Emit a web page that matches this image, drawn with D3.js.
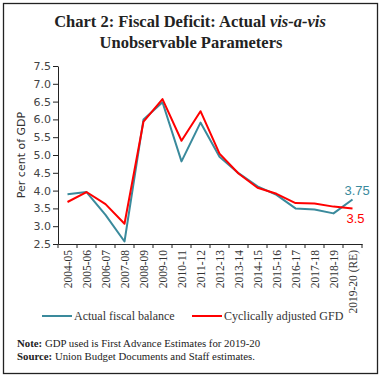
<!DOCTYPE html>
<html><head><meta charset="utf-8">
<script src="https://cdn.jsdelivr.net/npm/d3@7"></script>
<style>body{margin:0;background:#fff;} svg{display:block;}</style>
</head><body>
<script>
const categories = ["2004-05","2005-06","2006-07","2007-08","2008-09","2009-10","2010-11","2011-12","2012-13","2013-14","2014-15","2015-16","2016-17","2017-18","2018-19","2019-20 (RE)"];
const actualFiscal = [3.9,3.96,3.32,2.57,6.0,6.48,4.82,5.91,4.95,4.49,4.12,3.88,3.5,3.47,3.36,3.75];
const cyclicalGFD = [3.68,3.96,3.62,3.07,5.94,6.57,5.4,6.23,5.04,4.48,4.08,3.91,3.65,3.64,3.55,3.5];
const yTicks = [2.5,3.0,3.5,4.0,4.5,5.0,5.5,6.0,6.5,7.0,7.5];
const seriesNames = ["Actual fiscal balance","Cyclically adjusted GFD"];
const colors = ["#3a8a9c","#ff0000"];

const W=382,H=379;
const svg=d3.select("body").append("svg").attr("width",W).attr("height",H);
svg.append("rect").attr("x",3.5).attr("y",3.5).attr("width",374).attr("height",370)
  .attr("fill","none").attr("stroke","#222").attr("stroke-width",1.3);

const serif="'Liberation Serif','DejaVu Serif',serif";
const sans="'DejaVu Sans',sans-serif";

const title=svg.append("text").attr("text-anchor","middle").attr("font-family",serif)
  .attr("font-weight","bold").attr("font-size",16.5).attr("fill","#222");
const t1=title.append("tspan").attr("x",190).attr("y",27);
t1.append("tspan").text("Chart 2: Fiscal Deficit: Actual ");
t1.append("tspan").attr("font-style","italic").text("vis-a-vis");
title.append("tspan").attr("x",191).attr("y",48).text("Unobservable Parameters");

const x=d3.scaleBand().domain(categories).range([58,362]);
const y=d3.scaleLinear().domain([2.5,7.5]).range([244,66]);

// y axis
const ya=svg.append("g").attr("transform","translate(58,0)")
  .call(d3.axisLeft(y).tickValues(yTicks).tickFormat(d3.format(".1f")).tickSize(5).tickSizeOuter(0));
ya.selectAll("text").attr("font-family",sans).attr("font-size",11).attr("fill","#444").attr("dx",1);
ya.selectAll("line,path").attr("stroke","#222");

// x axis
const xa=svg.append("g").attr("transform","translate(0,244)")
  .call(d3.axisBottom(x).tickSize(0).tickSizeOuter(0));
xa.select("path").attr("stroke","#222");
xa.selectAll("text").attr("font-family",serif).attr("font-size",11.5).attr("fill","#333")
  .attr("transform","rotate(-90)").attr("text-anchor","end").attr("x",-6).attr("y",0).attr("dy","0.35em");
const bounds=categories.map(c=>x(c)).concat([x.range()[1]]);
svg.append("g").selectAll("line").data(bounds).join("line")
  .attr("x1",d=>d).attr("x2",d=>d).attr("y1",244).attr("y2",248).attr("stroke","#222");

// lines
const line=d3.line().x((d,i)=>x(categories[i])+x.bandwidth()/2).y(d=>y(d));
[actualFiscal,cyclicalGFD].forEach((s,k)=>{
  svg.append("path").datum(s).attr("d",line).attr("fill","none")
    .attr("stroke",colors[k]).attr("stroke-width",2).attr("stroke-linejoin","round");
});

// end labels
const last=categories.length-1;
svg.append("text").attr("x",x(categories[last])+x.bandwidth()/2-8).attr("y",y(actualFiscal[last])-5)
  .attr("font-family","'Liberation Sans',Arial,sans-serif").attr("font-size",13).attr("fill",colors[0]).text(String(actualFiscal[last]));
svg.append("text").attr("x",x(categories[last])+x.bandwidth()/2-6).attr("y",y(cyclicalGFD[last])+15)
  .attr("font-family","'Liberation Sans',Arial,sans-serif").attr("font-size",13).attr("fill",colors[1]).text(String(cyclicalGFD[last]));

// y label
svg.append("text").attr("transform","translate(25,155) rotate(-90)").attr("text-anchor","middle")
  .attr("font-family",sans).attr("font-size",11).attr("fill","#333").text("Per cent of GDP");

// legend
const lg=[{x1:42,x2:72,tx:74},{x1:192,x2:222,tx:224}];
lg.forEach((l,k)=>{
  svg.append("line").attr("x1",l.x1).attr("x2",l.x2).attr("y1",316).attr("y2",316)
    .attr("stroke",colors[k]).attr("stroke-width",2);
  svg.append("text").attr("x",l.tx).attr("y",320).attr("font-family",serif).attr("font-size",12)
    .attr("fill","#333").text(seriesNames[k]);
});

// notes
const n1=svg.append("text").attr("x",17).attr("y",347).attr("font-family",serif).attr("font-size",10.8).attr("fill","#222");
n1.append("tspan").attr("font-weight","bold").text("Note:");
n1.append("tspan").text(" GDP used is First Advance Estimates for 2019-20");
const n2=svg.append("text").attr("x",17).attr("y",360).attr("font-family",serif).attr("font-size",10.8).attr("fill","#222");
n2.append("tspan").attr("font-weight","bold").text("Source:");
n2.append("tspan").text(" Union Budget Documents and Staff estimates.");
</script>
</body></html>
